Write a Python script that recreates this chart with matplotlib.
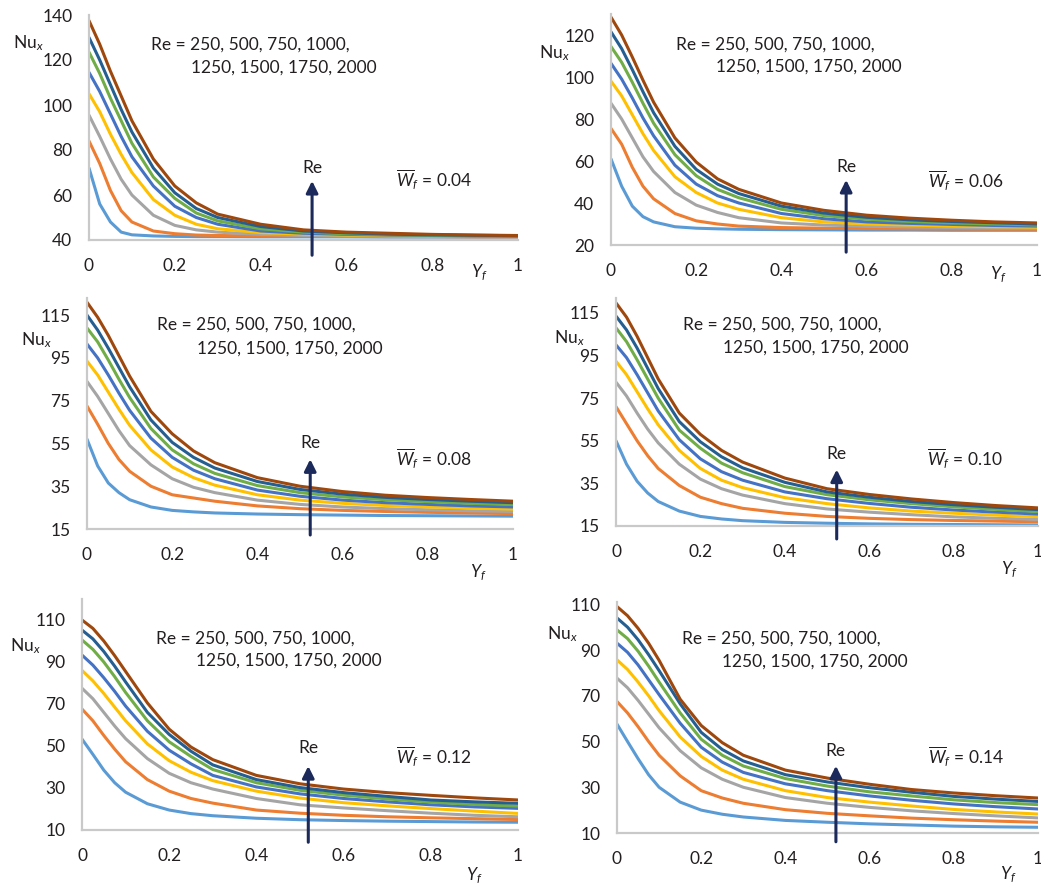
import matplotlib
matplotlib.use("Agg")
import matplotlib.pyplot as plt
import numpy as np

plt.rcParams['font.family'] = ['Lato', 'DejaVu Sans']
plt.rcParams['mathtext.fontset'] = 'custom'
plt.rcParams['mathtext.rm'] = 'Lato'
plt.rcParams['mathtext.it'] = 'Lato:italic'

#### Data ####

y_f = [0, 0.025, 0.05, 0.075, 0.1, 0.15, 0.2, 0.25, 0.3, 0.4, 0.5, 0.6, 0.7, 0.8, 0.9, 1.0]
reynolds = [250, 500, 750, 1000, 1250, 1500, 1750, 2000]
w_f_labels = ['0.04', '0.06', '0.08', '0.10', '0.12', '0.14']

nu_w004 = [
    [72, 56, 48, 43.5, 42.3, 41.8, 41.6, 41.5, 41.5, 41.4, 41.4, 41.4, 41.3, 41.3, 41.3, 41.3],
    [84, 74, 62, 53, 48, 44, 42.8, 42.2, 42, 41.8, 41.7, 41.6, 41.5, 41.5, 41.4, 41.4],
    [95.5, 86, 76, 67, 60, 51, 46.5, 44.5, 43.5, 42.5, 42, 41.8, 41.7, 41.6, 41.5, 41.5],
    [105, 97, 87, 78, 70, 58, 51, 47, 45, 43.3, 42.6, 42.2, 41.9, 41.8, 41.7, 41.6],
    [114.5, 106, 96, 86, 77, 64, 55, 50, 47, 44, 43, 42.5, 42.2, 42, 41.8, 41.7],
    [123.5, 114, 103, 93, 83, 68, 58.5, 52, 48.5, 45, 43.5, 42.8, 42.4, 42.1, 41.9, 41.8],
    [130, 120, 109, 98, 88, 72, 61, 54, 50, 46, 44, 43.2, 42.6, 42.3, 42.1, 41.9],
    [137.5, 127, 115, 104, 93, 76, 64, 56.5, 51.5, 47, 44.5, 43.5, 43, 42.5, 42.2, 42],
]
nu_w006 = [
    [61, 48, 38.5, 33.5, 31, 28.7, 28, 27.7, 27.5, 27.3, 27.2, 27.1, 27.1, 27, 27, 27],
    [75.5, 68, 57, 48, 42, 35, 31.5, 30, 29, 28.3, 28, 27.8, 27.7, 27.6, 27.5, 27.5],
    [87.5, 80, 71, 62, 55, 45, 39, 35.5, 33, 30.5, 29.5, 29, 28.6, 28.3, 28.1, 28],
    [98, 91, 82, 73, 65, 52.5, 45, 40, 37, 33, 31, 30, 29.5, 29, 28.7, 28.5],
    [106.5, 99, 90, 80.5, 72, 58, 49, 43.5, 40, 35, 32.5, 31, 30.3, 29.8, 29.3, 29],
    [114.5, 107, 97.5, 87.5, 78, 63, 53, 46.5, 42.5, 37, 34, 32.3, 31.2, 30.5, 30, 29.5],
    [121.5, 113.5, 103.5, 93, 83, 67, 56, 49, 44.5, 38.5, 35.2, 33.2, 32, 31.2, 30.6, 30],
    [128.5, 120, 109.5, 98.5, 88, 71, 59.5, 51.5, 46.5, 40, 36.5, 34.2, 32.8, 31.8, 31, 30.5],
]
nu_w008 = [
    [57, 44.5, 36.5, 32, 28.7, 25.3, 23.7, 23, 22.5, 22, 21.7, 21.5, 21.3, 21.2, 21.1, 21],
    [72.5, 64, 55, 47.5, 42, 35, 31, 29.5, 28, 25.8, 24.5, 23.7, 23.2, 22.8, 22.5, 22.2],
    [84, 77, 69, 61, 54, 45, 38.5, 34.5, 32, 28.5, 26.5, 25.3, 24.5, 24, 23.5, 23.2],
    [93.5, 87, 79, 71, 63.5, 52, 44, 39, 35.5, 31, 28.5, 27, 26, 25.3, 24.8, 24.3],
    [101.5, 95, 87, 78.5, 70.5, 57.5, 48.5, 42.5, 38.5, 33.2, 30.3, 28.5, 27.3, 26.5, 25.8, 25.3],
    [109, 102.5, 94, 85, 76.5, 62, 52, 45.5, 41, 35.3, 32, 30, 28.7, 27.8, 27, 26.4],
    [115, 108, 99.5, 90.5, 81.5, 66, 55.5, 48.5, 43.5, 37.2, 33.5, 31.3, 29.8, 28.8, 28, 27.3],
    [121, 114, 105.5, 96, 86.5, 70, 59.5, 51.5, 46, 39, 35, 32.5, 30.8, 29.7, 28.8, 28],
]
nu_w010 = [
    [55, 44, 36, 30.5, 26.5, 22, 19.5, 18.3, 17.5, 16.7, 16.3, 16, 15.8, 15.7, 15.6, 15.5],
    [71, 63, 55, 48, 42, 34, 28.5, 25.5, 23.3, 21, 19.5, 18.6, 18, 17.6, 17.3, 17],
    [82.5, 76, 68, 60.5, 54, 44, 37, 32.5, 29.5, 25.5, 23, 21.5, 20.3, 19.3, 18.6, 18.1],
    [92.3, 86, 78, 70, 62.5, 50.5, 42, 36.5, 33, 28.3, 25.5, 23.5, 22, 21, 20.1, 19.4],
    [100, 94, 86, 77.5, 69, 55.5, 46.5, 40.5, 36.5, 31, 27.8, 25.6, 23.8, 22.5, 21.5, 20.6],
    [108, 101.5, 93, 84, 75, 60, 51.5, 44.5, 40, 33.5, 29.7, 27.3, 25.5, 24, 22.8, 21.8],
    [113.5, 107, 98.5, 89, 79.5, 64, 54.5, 47.5, 42.3, 35.5, 31, 28.5, 26.5, 25, 23.8, 22.7],
    [119.7, 113, 104, 94, 84, 68, 58, 50.5, 45, 37.5, 32.5, 29.8, 27.7, 26, 24.6, 23.5],
]
nu_w012 = [
    [53.3, 46, 38.5, 32.5, 28, 22.5, 19.5, 17.8, 16.8, 15.6, 14.9, 14.5, 14.2, 14, 13.8, 13.7],
    [67.6, 62, 55, 48.5, 42.5, 34, 28.5, 25, 22.8, 19.5, 18, 17, 16.3, 15.8, 15.4, 15],
    [77.5, 72.5, 66, 59.5, 53.5, 44, 37, 32.5, 29.5, 25, 22, 20.5, 19.2, 18, 17, 16.3],
    [86, 81, 75, 68.5, 62, 51, 43, 37.5, 33.5, 28.5, 25.2, 23, 21.5, 20.2, 19, 17.9],
    [93.3, 88.5, 82.5, 76, 69, 57, 48, 41.5, 36, 30.5, 27.2, 25, 23.4, 22, 21, 20.3],
    [100.5, 96, 90, 83, 75.5, 62, 52, 45, 38.8, 32.5, 28.9, 26.6, 24.8, 23.3, 22.2, 21.4],
    [105.2, 101, 95, 88, 80.5, 66, 55.5, 47.5, 41, 34, 30.2, 27.8, 26, 24.3, 23.4, 22.7],
    [110, 106, 100, 93, 85.5, 70.5, 58, 49.5, 43.5, 36, 32, 29.5, 27.8, 26.5, 25.3, 24.3],
]
nu_w014 = [
    [57.6, 50, 42.5, 35.5, 30, 23.5, 20, 18.2, 17, 15.5, 14.7, 14, 13.5, 13, 12.7, 12.5],
    [67.5, 62.5, 56.5, 50, 44, 35, 28.5, 25.3, 23, 20.2, 18.6, 17.5, 16.5, 15.8, 15.2, 14.7],
    [77.7, 73.5, 68, 62, 56, 46, 38.5, 33.5, 30, 25.5, 23, 21.2, 19.7, 18.5, 17.5, 16.6],
    [85.7, 81.5, 76, 70, 63.5, 52, 43.5, 37.5, 33.5, 28.5, 25.5, 23.5, 21.8, 20.3, 19.2, 18.3],
    [93, 89, 83.5, 77, 70.5, 58, 47.5, 41, 36.5, 31.5, 28.5, 26.2, 24.3, 22.7, 21.5, 20.5],
    [98.8, 95, 89.5, 83, 76, 62.5, 51, 44, 39.3, 33.8, 30.5, 28, 26.2, 24.5, 23.3, 22.4],
    [104, 100, 94.5, 88, 81, 66.5, 54, 46.5, 41.5, 35.5, 32.3, 29.8, 27.8, 26, 24.8, 23.8],
    [109, 105, 99.5, 93, 85.5, 68.5, 57, 49.5, 44, 37.5, 34, 31.3, 29, 27.5, 26.3, 25.3],
]

y_limits = [(40, 140), (20, 130), (15, 123), (15, 122), (10, 120), (10, 111)]
y_ticks = [range(40, 141, 20), range(20, 121, 20), range(15, 116, 20),
           range(15, 116, 20), range(10, 111, 20), range(10, 111, 20)]

#### Layout (pixels: left, right, top, bottom) ####

W, H = 1041, 885
boxes = [(89, 518, 15, 240), (611, 1037, 14, 245),
         (87, 513, 298, 529), (616, 1038, 298, 526),
         (82, 518, 599, 830), (617, 1038, 602, 833)]
# arrow x, arrow tip, arrow tail, "Re" y, W label (x, y), Re list (x, y), Nu label (x, y), Yf label (x, y)
arrows = [(0.52, 0.275, -0.08, 0.32), (0.552, 0.294, -0.043, 0.338),
          (0.524, 0.314, -0.038, 0.373), (0.523, 0.26, -0.069, 0.316),
          (0.519, 0.289, -0.065, 0.354), (0.52, 0.303, -0.05, 0.353)]
w_pos = [(0.715, 0.27), (0.745, 0.28), (0.725, 0.304), (0.738, 0.293), (0.72, 0.317), (0.738, 0.331)]
re_pos = [(0.145, 0.867, 0.238, 0.764), (0.153, 0.866, 0.247, 0.772),
          (0.164, 0.883, 0.258, 0.783), (0.158, 0.883, 0.253, 0.781),
          (0.169, 0.83, 0.261, 0.732), (0.154, 0.843, 0.249, 0.744)]
nu_pos = [(-0.177, 0.876), (-0.168, 0.831), (-0.156, 0.818), (-0.148, 0.825), (-0.166, 0.794), (-0.166, 0.86)]
yf_pos = [(0.89, -0.147), (0.89, -0.13), (0.9, -0.19), (0.913, -0.193), (0.88, -0.2), (0.91, -0.18)]

colors = ['#5B9BD5', '#ED7D31', '#A5A5A5', '#FFC000', '#4472C4', '#70AD47', '#255E91', '#9E480E']
arrow_color = '#1B2A5A'
panels = [nu_w004, nu_w006, nu_w008, nu_w010, nu_w012, nu_w014]

fig = plt.figure(figsize=(W / 100, H / 100), dpi=100)

for i, curves in enumerate(panels):
    l, r, t, b = boxes[i]
    ax = fig.add_axes([l / W, 1 - b / H, (r - l) / W, (b - t) / H])

    for k, nu in enumerate(curves):
        ax.plot(y_f, nu, color=colors[k], lw=2.2, solid_capstyle='round',
                label=f'Re = {reynolds[k]}')

    ax.set_xlim(0, 1)
    ax.set_ylim(*y_limits[i])
    ax.set_yticks(list(y_ticks[i]))
    ax.set_xticks([0, 0.2, 0.4, 0.6, 0.8, 1])
    ax.set_xticklabels(['0', '0.2', '0.4', '0.6', '0.8', '1'])
    ax.tick_params(length=0, labelsize=12.5, colors='#231F20')
    ax.tick_params(axis='x', pad=13)
    ax.tick_params(axis='y', pad=12)
    for s in ['top', 'right']:
        ax.spines[s].set_visible(False)
    for s in ['left', 'bottom']:
        ax.spines[s].set_color('#C9C9C9')
        ax.spines[s].set_linewidth(1.6)

    ax_x, tip, tail, re_y = arrows[i]
    ax.annotate('', xy=(ax_x, tip), xytext=(ax_x, tail), xycoords='axes fraction',
                arrowprops=dict(arrowstyle='-|>,head_length=0.7,head_width=0.35',
                                color=arrow_color, lw=2.2),
                annotation_clip=False)
    ax.text(ax_x, re_y, 'Re', transform=ax.transAxes, ha='center', va='center',
            fontsize=12.5, color='#231F20')

    wx, wy = w_pos[i]
    ax.text(wx, wy, r'$\overline{W}_f$ = ' + w_f_labels[i], transform=ax.transAxes,
            ha='left', va='center', fontsize=12.5, color='#231F20')

    x1, y1, x2, y2 = re_pos[i]
    ax.text(x1, y1, 'Re = ' + ', '.join(str(v) for v in reynolds[:4]) + ',',
            transform=ax.transAxes, ha='left', va='center', fontsize=12.5, color='#231F20')
    ax.text(x2, y2, ', '.join(str(v) for v in reynolds[4:]),
            transform=ax.transAxes, ha='left', va='center', fontsize=12.5, color='#231F20')

    nx, ny = nu_pos[i]
    ax.text(nx, ny, r'Nu$_x$', transform=ax.transAxes, ha='left', va='center',
            fontsize=12.5, color='#231F20')
    fx, fy = yf_pos[i]
    ax.text(fx, fy, r'$Y_f$', transform=ax.transAxes, ha='left', va='center',
            fontsize=12.5, color='#231F20')

fig.savefig('out.png', dpi=100)
